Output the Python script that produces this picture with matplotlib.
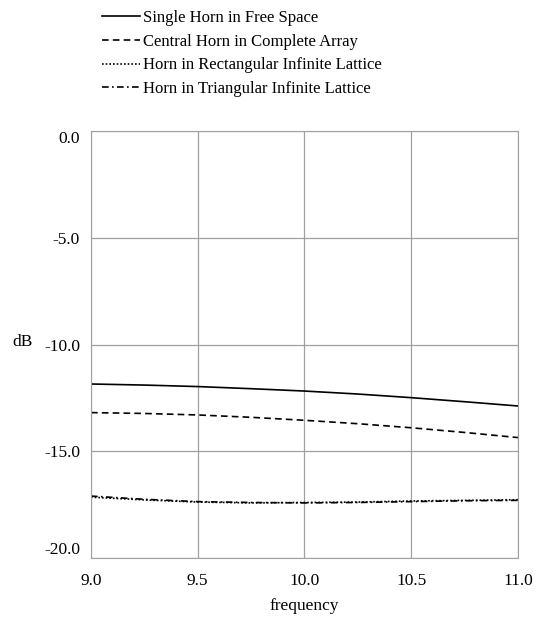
import numpy as np
import matplotlib
matplotlib.use("Agg")
import matplotlib.pyplot as plt

plt.rcParams['font.family'] = ['Liberation Serif', 'DejaVu Serif']

# ---------------- DATA ----------------
freq = [9.0, 9.25, 9.5, 9.75, 10.0, 10.25, 10.5, 10.75, 11.0]
free_space = [-11.85, -11.90, -11.97, -12.07, -12.18, -12.32, -12.49, -12.68, -12.88]
complete_array = [-13.19, -13.23, -13.30, -13.41, -13.55, -13.71, -13.90, -14.12, -14.36]
rect_lattice = [-17.15, -17.28, -17.38, -17.42, -17.40, -17.38, -17.33, -17.30, -17.27]
tri_lattice = [-17.10, -17.25, -17.36, -17.40, -17.42, -17.40, -17.36, -17.32, -17.30]

labels = ["Single Horn in Free Space",
          "Central Horn in Complete Array",
          "Horn in Rectangular Infinite Lattice",
          "Horn in Triangular Infinite Lattice"]

x_ticks = [9.0, 9.5, 10.0, 10.5, 11.0]
y_ticks = [0.0, -5.0, -10.0, -15.0, -20.0]

# ---------------- PLOT ----------------
fig = plt.figure(figsize=(5.4, 6.18), dpi=100)
ax = fig.add_axes([0.1685, 0.0971, 0.7907, 0.6909])

ax.plot(freq, free_space, color='black', lw=1.2, ls='-', label=labels[0])
ax.plot(freq, complete_array, color='black', lw=1.2, ls=(0, (4, 2.5)), label=labels[1])
ax.plot(freq, rect_lattice, color='black', lw=1.2, ls=(0, (1, 1.2)), label=labels[2])
ax.plot(freq, tri_lattice, color='black', lw=1.2, ls=(0, (4, 2, 1, 2)), label=labels[3])

ax.set_xlim(9.0, 11.0)
ax.set_ylim(-20.0, 0.0)
ax.set_xticks(x_ticks)
ax.set_yticks(y_ticks)
ax.xaxis.set_major_formatter(matplotlib.ticker.FormatStrFormatter('%.1f'))
ax.yaxis.set_major_formatter(matplotlib.ticker.FormatStrFormatter('%.1f'))
ax.tick_params(axis='x', length=0, labelsize=12.5, pad=11)
ax.tick_params(axis='y', length=0, labelsize=12.5, pad=8)
ax.grid(color='#a0a0a0', lw=0.9)
for s in ax.spines.values():
    s.set_color('#a0a0a0')

# edge labels are kept inside the plot's height
yt = ax.yaxis.get_major_ticks()
yt[0].label1.set_va('top')
yt[-1].label1.set_va('bottom')

ax.set_xlabel("frequency", fontsize=12.5, labelpad=6)
ax.set_ylabel("dB", fontsize=12.5, rotation=0)
ax.yaxis.set_label_coords(-0.16, 0.487)

fig.legend(loc='upper left', bbox_to_anchor=(0.17, 1.0), frameon=False,
           fontsize=12, handlelength=2.3, handletextpad=0.2, labelspacing=0.46,
           borderaxespad=0.2)

fig.savefig("out.png", dpi=100)
